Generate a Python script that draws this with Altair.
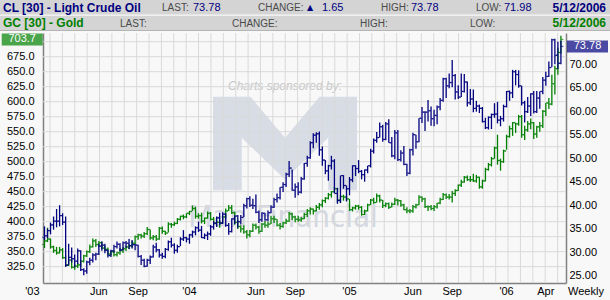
import altair as alt
import pandas as pd
import numpy as np

# ---------------- data (weekly bars, week ending Friday) ----------------
weeks = pd.date_range("2003-01-31", "2006-05-12", freq="W-FRI")

cl_high = [35.5,35.0,36.3,37.6,39.2,40.0,38.3,37.6,31.8,31.0,29.5,30.8,30.4,26.6,28.2,28.8,29.8,29.9,31.8,32.3,
           31.8,30.6,30.5,31.6,32.3,31.9,32.3,32.4,32.8,32.6,31.8,31.6,29.4,28.6,28.6,29.3,31.6,32.0,30.7,29.9,
           30.9,32.5,33.1,31.9,31.6,33.2,34.7,33.3,33.9,34.6,35.5,36.5,35.6,34.0,34.4,35.8,36.6,37.6,38.4,38.5,
           38.3,36.2,37.2,37.8,37.9,37.9,40.3,41.6,41.9,41.4,42.3,38.9,38.5,38.4,38.9,40.0,41.6,42.5,43.8,44.9,
           46.9,49.4,47.6,44.6,44.9,46.0,49.0,50.5,53.6,55.3,55.5,55.7,52.5,49.6,48.6,50.5,49.8,43.7,46.3,46.4,
           44.2,46.0,48.5,48.5,49.6,47.5,47.6,48.4,52.0,54.2,55.6,57.6,57.1,57.7,58.3,54.5,56.0,56.0,51.7,52.6,
           48.8,52.0,55.4,55.0,58.5,60.9,60.0,62.4,61.0,60.3,61.2,62.8,67.1,67.1,68.0,70.9,67.9,65.5,68.0,67.9,
           66.3,64.7,64.6,62.2,61.4,60.9,58.6,58.9,59.5,61.7,62.0,59.0,61.4,64.3,64.4,68.8,68.8,68.7,65.4,62.2,
           63.0,63.8,64.3,64.3,64.2,67.3,68.4,70.6,75.4,75.4,74.8,75.0]
cl_low = [32.6,33.0,33.8,34.8,35.3,35.5,35.8,26.9,27.3,27.8,26.8,27.5,26.0,25.1,25.4,27.2,27.8,28.3,29.4,30.3,
          29.8,28.9,29.0,29.9,30.8,30.2,30.4,30.9,30.7,30.8,30.4,28.9,27.3,26.8,26.9,27.5,28.9,30.0,28.9,28.6,
          28.7,30.3,31.0,29.7,29.9,31.3,32.4,32.1,31.8,33.1,33.6,34.3,33.0,32.8,32.6,33.5,34.8,35.4,35.8,36.0,
          35.4,33.7,34.2,36.0,35.2,35.9,37.5,39.3,39.6,39.2,38.3,36.2,36.5,36.7,36.6,38.3,39.4,40.6,41.2,42.8,
          43.9,46.0,43.1,41.6,42.1,42.5,45.4,48.2,49.9,52.1,53.3,50.5,48.4,46.6,45.2,47.6,42.5,40.3,40.5,43.5,
          40.8,42.1,44.9,46.2,46.8,45.5,45.0,46.8,48.0,51.0,53.3,54.4,53.5,53.8,53.3,50.2,49.8,49.4,49.3,48.5,
          46.2,46.6,50.6,52.0,53.4,57.5,55.8,57.8,56.9,56.8,57.2,60.2,62.0,62.8,64.9,65.1,62.5,62.6,63.0,64.0,
          61.0,61.3,59.8,59.9,59.6,57.6,56.2,56.1,56.2,58.6,57.4,56.8,57.8,60.8,62.2,62.8,65.5,65.0,61.2,57.6,
          59.6,59.0,59.5,59.6,60.5,63.6,65.4,67.3,69.4,70.0,69.0,70.0]
cl_close = [33.5,34.6,35.8,36.6,36.6,37.8,36.4,27.2,28.9,28.6,28.1,30.3,26.3,26.0,27.9,28.3,29.4,29.6,31.3,31.5,
            30.4,29.3,30.3,31.2,31.7,30.5,32.0,31.9,31.4,31.6,31.5,29.1,28.3,27.0,28.3,29.0,31.1,30.5,29.4,29.1,
            30.6,32.2,31.5,30.4,31.2,32.8,33.1,32.8,33.7,34.3,35.2,34.7,33.1,33.6,33.9,35.4,36.2,37.3,36.2,38.1,
            35.7,34.4,37.1,37.7,36.5,37.4,39.9,41.4,40.0,39.9,38.5,36.9,38.3,36.9,38.4,39.6,41.2,41.6,43.8,44.4,
            46.6,47.9,43.2,43.9,42.8,45.6,48.9,50.1,53.3,54.9,55.2,51.8,49.6,47.3,48.4,49.4,42.5,41.0,46.3,44.2,
            43.5,45.4,48.4,47.8,47.2,46.5,47.5,48.4,51.5,53.8,54.4,56.7,54.0,57.3,53.3,50.5,55.4,49.7,51.1,48.7,
            46.8,51.8,55.0,53.5,58.5,59.8,59.8,60.1,58.4,59.1,60.9,62.3,66.9,65.4,66.1,67.6,64.1,63.0,64.2,66.2,
            61.8,62.6,60.6,61.1,60.6,57.8,56.5,58.7,59.3,59.4,58.1,58.4,61.0,64.2,63.9,68.4,67.8,65.4,61.8,59.9,
            61.1,63.7,59.9,62.8,64.2,66.6,67.4,69.3,75.2,71.9,70.2,73.78]

gc_high = [374,390,372,360,358,358,356,345,338,337,330,331,336,345,352,362,372,371,368,367,
           360,357,352,352,350,356,358,360,363,368,377,380,380,383,391,387,378,378,391,392,
           385,399,398,400,406,410,412,414,418,427,425,414,415,407,417,416,408,404,403,410,
           422,428,428,417,403,394,394,386,386,397,397,393,398,401,400,410,410,404,398,400,
           405,416,415,410,410,408,415,421,424,422,428,431,437,441,448,451,458,456,444,445,
           444,438,425,428,428,426,420,430,438,440,447,445,436,432,432,432,440,438,436,430,
           424,421,428,430,444,442,440,427,428,428,431,440,448,447,446,451,454,462,470,476,
           477,476,480,478,475,470,490,498,508,525,545,505,520,545,560,566,565,578,578,560,
           568,572,566,560,566,586,598,606,645,660,690,710]
gc_low = [356,366,355,348,345,347,338,325,326,322,320,323,325,332,341,348,357,358,358,354,
          351,344,344,342,342,345,348,351,354,357,362,370,372,373,378,370,369,368,370,380,
          378,382,390,393,396,402,404,406,411,418,405,405,397,396,405,402,395,392,390,398,
          406,418,413,395,388,382,380,372,374,383,387,380,383,390,390,396,398,392,387,390,
          396,400,403,399,400,400,404,408,412,412,417,420,424,431,437,440,448,432,431,435,
          435,418,417,420,420,410,411,417,428,430,432,432,423,424,421,424,428,427,425,419,
          414,414,415,422,428,433,423,418,419,418,422,429,436,438,437,432,443,451,458,465,
          468,466,466,465,455,455,467,485,492,505,495,485,498,520,540,543,548,560,540,536,
          550,554,538,540,550,556,576,588,594,612,645,680]
gc_close = [368,371,358,352,348,353,340,328,336,324,326,328,334,343,350,358,368,362,365,356,
            354,346,350,345,348,352,355,358,360,364,375,378,376,380,387,373,375,371,389,384,
            381,396,395,397,404,409,408,414,417,422,409,410,401,406,414,404,397,399,398,408,
            418,423,415,399,392,388,383,378,384,394,391,384,396,394,396,405,404,394,392,398,
            401,413,408,404,403,405,412,418,421,418,424,428,435,439,445,450,455,436,442,441,
            438,420,423,426,424,412,418,428,436,432,443,436,427,430,424,429,436,435,428,420,
            418,418,425,428,441,438,425,425,422,425,431,437,445,441,441,447,452,461,466,474,
            470,470,468,474,458,468,487,495,505,523,502,500,518,542,555,565,563,575,545,553,
            563,565,546,558,560,584,598,596,630,655,682,703.7]

cl_open_first = 33.2
gc_open_first = 362

x_label_text = ["'03", "Jun", "Sep", "'04", "Jun", "Sep", "'05", "Jun", "Sep", "'06", "Apr"]
x_label_week = [-4, 18, 31, 48, 70, 83, 101, 122, 135, 153, 166]

gc_grid = list(range(325, 701, 25))
gc_labels = list(range(325, 676, 25))      # 700.0 sits under the last-price box
cl_labels = list(range(25, 71, 5))         # 75.00 sits under the last-price box

cl_last, cl_change, cl_hi, cl_lo = "73.78", "1.65", "73.78", "71.98"
quote_date = "5/12/2006"

# ---------------- frames ----------------
n = len(weeks)
cl = pd.DataFrame({"i": np.arange(n), "high": cl_high, "low": cl_low, "close": cl_close})
cl["open"] = [cl_open_first] + cl_close[:-1]
gc = pd.DataFrame({"i": np.arange(n), "high": gc_high, "low": gc_low, "close": gc_close})
gc["open"] = [gc_open_first] + gc_close[:-1]

NAVY = "#000080"
GREEN = "#008000"
GRID = "#d9d9d9"
AX = "#808080"
FONT = "Liberation Sans"

W, H = 523, 250
OX, OY = 43, 33
PX_WEEK = 3.02
xmin = -1.5 / PX_WEEK
xscale = alt.Scale(domain=[xmin, xmin + W / PX_WEEK], nice=False, zero=False)
gscale = alt.Scale(domain=[297.8, 714.5], nice=False, zero=False)
cscale = alt.Scale(domain=[23.45, 76.64], nice=False, zero=False)

xaxis = alt.Axis(labels=False, ticks=False, grid=False, domain=True, domainColor=AX,
                 domainWidth=1.5, title=None)
gaxis = alt.Axis(orient="left", values=gc_labels, format=".1f", grid=False, ticks=False,
                 domainColor=AX, domainWidth=1.5, labelPadding=9, labelFontSize=11, labelFont=FONT,
                 labelColor="#000000", title=None)
caxis = alt.Axis(orient="right", values=cl_labels, format=".2f", grid=False, ticks=False,
                 domainColor=AX, domainWidth=1.5, labelPadding=3, labelFontSize=11, labelFont=FONT,
                 labelColor="#000000", title=None)

one = pd.DataFrame({"k": [0]})


def label(text, x, y, color="#4a4a4a", size=10, weight="normal", align="left",
          font=FONT, style="normal", baseline="middle"):
    return alt.Chart(one).mark_text(text=text, align=align, baseline=baseline, font=font,
                                    fontSize=size, fontWeight=weight, color=color,
                                    fontStyle=style).encode(x=alt.value(x - OX), y=alt.value(y - OY))


def box(x1, x2, y1, y2, color):
    return alt.Chart(one).mark_rect(color=color).encode(
        x=alt.value(x1 - OX), x2=alt.value(x2 - OX), y=alt.value(y1 - OY), y2=alt.value(y2 - OY))


# ---------------- watermark ----------------
M_PATH = ("M-1,-0.65 L-0.48,-0.65 L0,-0.08 L0.48,-0.65 L1,-0.65 L1,0.65 L0.6,0.65 L0.6,-0.08 "
          "L0,0.5 L-0.6,-0.08 L-0.6,0.65 L-1,0.65 Z")
wm = [
    label("Charts sponsored by:", 285, 86, color="#c6c6c6", size=12, align="center", style="italic"),
    alt.Chart(one).mark_point(shape=M_PATH, filled=True, size=144 * 144, color="#d8dce5",
                              opacity=1, strokeWidth=0).encode(
        x=alt.value(285 - OX), y=alt.value(143.5 - OY)),
    label("Man Financial", 283, 227, color="#d3d7df", size=31, align="center",
          font="Liberation Sans Narrow, DejaVu Sans Condensed, sans-serif", baseline="alphabetic"),
]

# ---------------- grid ----------------
hgrid = alt.Chart(pd.DataFrame({"v": gc_grid})).mark_rule(color=GRID, strokeWidth=1).encode(
    y=alt.Y("v:Q", scale=gscale, axis=gaxis), x=alt.value(0), x2=alt.value(W))
vgrid_pos = (50 + 12.38 * np.arange(42) - 44.5) / PX_WEEK
vgrid = alt.Chart(pd.DataFrame({"g": vgrid_pos})).mark_rule(color=GRID, strokeWidth=1).encode(
    x=alt.X("g:Q", scale=xscale, axis=xaxis), y=alt.value(0), y2=alt.value(H))


def bars(df, scale, color, axis):
    base = alt.Chart(df)
    rule = base.mark_rule(color=color, strokeWidth=1.3).encode(
        x=alt.X("i:Q", scale=xscale, axis=xaxis),
        y=alt.Y("low:Q", scale=scale, axis=axis),
        y2="high:Q")
    op = base.mark_tick(orient="horizontal", color=color, size=2, thickness=1.2, xOffset=-1.4).encode(
        x=alt.X("i:Q", scale=xscale, axis=xaxis), y=alt.Y("open:Q", scale=scale, axis=axis))
    clo = base.mark_tick(orient="horizontal", color=color, size=2, thickness=1.2, xOffset=1.4).encode(
        x=alt.X("i:Q", scale=xscale, axis=xaxis), y=alt.Y("close:Q", scale=scale, axis=axis))
    return [rule, op, clo]


gc_last = gc.tail(1)
cl_lastdf = cl.tail(1)

gbox = alt.Chart(gc_last).mark_tick(orient="horizontal", color=GREEN, size=41, thickness=12).encode(
    x=alt.value(22.2 - OX), y=alt.Y("close:Q", scale=gscale, axis=gaxis))
gboxt = alt.Chart(gc_last).mark_text(color="white", font=FONT, fontSize=11, align="center",
                                     baseline="middle").encode(
    x=alt.value(22.2 - OX), y=alt.Y("close:Q", scale=gscale, axis=gaxis),
    text=alt.Text("close:Q", format=".1f"))
cbox = alt.Chart(cl_lastdf).mark_tick(orient="horizontal", color=NAVY, size=41, thickness=12).encode(
    x=alt.value(587.5 - OX), y=alt.Y("close:Q", scale=cscale, axis=caxis))
cboxt = alt.Chart(cl_lastdf).mark_text(color="white", font=FONT, fontSize=11, align="center",
                                       baseline="middle").encode(
    x=alt.value(587.5 - OX), y=alt.Y("close:Q", scale=cscale, axis=caxis),
    text=alt.Text("close:Q", format=".2f"))

gold = alt.layer(hgrid, vgrid, *bars(gc, gscale, GREEN, gaxis), gbox, gboxt)
oil = alt.layer(*bars(cl, cscale, NAVY, caxis), cbox, cboxt)

# ---------------- x labels ----------------
xl = alt.Chart(pd.DataFrame({"t": x_label_text, "w": x_label_week})).mark_text(
    font=FONT, fontSize=11, color="#000000", align="center", baseline="middle").encode(
    x=alt.X("w:Q", scale=xscale, axis=xaxis), y=alt.value(292 - OY), text="t:N")

# ---------------- header ----------------
hdr = [
    box(0, 610, 0, 14.5, "#d4d4d4"),
    box(0, 610, 15.8, 30, "#d4d4d4"),
    box(0, 610, 30, 31, "#b4b4b4"),
    label("CL [30] - Light Crude Oil", 3, 7.5, color=NAVY, size=12, weight="bold"),
    label("LAST:", 162, 8),
    label(cl_last, 193, 8, color=NAVY, size=11),
    label("CHANGE:", 258, 8),
    label("\u25B2", 307, 7.5, color=NAVY, size=8, font="DejaVu Sans"),
    label(cl_change, 322, 8, color=NAVY, size=11),
    label("HIGH:", 381, 8),
    label(cl_hi, 411, 8, color=NAVY, size=11),
    label("LOW:", 476, 8),
    label(cl_lo, 504, 8, color=NAVY, size=11),
    label(quote_date, 606, 7.5, color=NAVY, size=12, weight="bold", align="right"),
    label("GC [30] - Gold", 3, 23, color=GREEN, size=12, weight="bold"),
    label("LAST:", 120, 23.5),
    label("CHANGE:", 232, 23.5),
    label("HIGH:", 360, 23.5),
    label("LOW:", 470, 23.5),
    label(quote_date, 606, 23, color=GREEN, size=12, weight="bold", align="right"),
    label("Weekly", 586, 292, color="#000000", size=11, align="center"),
]

chart = alt.layer(*wm, gold, oil, xl, *hdr).resolve_scale(y="independent").properties(
    width=W, height=H,
    autosize=alt.AutoSizeParams(type="none"),
    padding={"left": OX, "top": OY, "right": 610 - OX - W, "bottom": 300 - OY - H},
    background="#f8f8f8",
).configure_view(stroke=None)

chart.save("out.html", embed_options={"renderer": "svg", "actions": False})
